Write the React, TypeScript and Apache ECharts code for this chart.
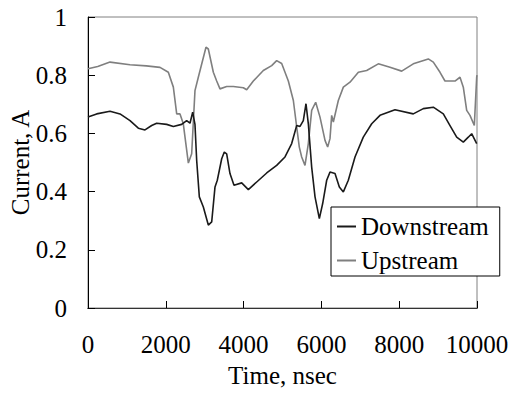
import React, { useEffect, useRef } from "react";
import * as echarts from "echarts";

const xTicks = [0, 2000, 4000, 6000, 8000, 10000];
const yTicks = [0, 0.2, 0.4, 0.6, 0.8, 1];

const downTime = [0, 223, 566, 823, 1080, 1294, 1465, 1637, 1765, 2022, 2194, 2408, 2536, 2622, 2691, 2750, 2794, 2862, 2965, 3093, 3180, 3265, 3324, 3437, 3504, 3565, 3650, 3753, 3951, 4122, 4337, 4594, 4850, 5064, 5236, 5365, 5450, 5535, 5604, 5664, 5750, 5836, 5947, 6033, 6136, 6221, 6350, 6461, 6564, 6692, 6864, 7077, 7293, 7506, 7892, 8362, 8620, 8877, 9134, 9306, 9478, 9648, 9776, 9863, 9992];
const downValues = [0.656, 0.667, 0.676, 0.667, 0.644, 0.618, 0.612, 0.627, 0.635, 0.631, 0.624, 0.631, 0.644, 0.635, 0.673, 0.631, 0.507, 0.382, 0.347, 0.285, 0.296, 0.416, 0.439, 0.513, 0.536, 0.53, 0.462, 0.422, 0.43, 0.407, 0.433, 0.464, 0.49, 0.519, 0.565, 0.627, 0.624, 0.644, 0.702, 0.633, 0.484, 0.382, 0.307, 0.359, 0.439, 0.467, 0.462, 0.416, 0.399, 0.439, 0.519, 0.587, 0.633, 0.662, 0.681, 0.667, 0.685, 0.69, 0.667, 0.627, 0.587, 0.57, 0.587, 0.599, 0.565];

const upTime = [0, 250, 566, 1080, 1500, 1851, 2065, 2194, 2280, 2365, 2450, 2580, 2665, 2750, 2836, 3033, 3093, 3222, 3308, 3393, 3565, 3736, 3993, 4079, 4250, 4507, 4722, 4850, 4979, 5150, 5279, 5365, 5432, 5493, 5578, 5664, 5750, 5853, 5964, 6093, 6161, 6221, 6264, 6307, 6435, 6564, 6735, 6950, 7164, 7463, 7763, 8064, 8362, 8748, 8877, 9049, 9177, 9434, 9563, 9648, 9735, 9820, 9931, 9992, 10000];
const upValues = [0.822, 0.83, 0.845, 0.836, 0.832, 0.827, 0.81, 0.759, 0.667, 0.667, 0.633, 0.498, 0.53, 0.747, 0.793, 0.896, 0.89, 0.81, 0.78, 0.753, 0.761, 0.761, 0.757, 0.75, 0.78, 0.816, 0.833, 0.85, 0.84, 0.78, 0.713, 0.622, 0.553, 0.519, 0.49, 0.565, 0.679, 0.707, 0.656, 0.576, 0.553, 0.582, 0.662, 0.639, 0.713, 0.759, 0.776, 0.81, 0.816, 0.839, 0.827, 0.814, 0.839, 0.856, 0.845, 0.81, 0.78, 0.78, 0.793, 0.759, 0.679, 0.662, 0.627, 0.793, 0.8];

const FONT = '"Liberation Serif", "Times New Roman", serif';

export default function App() {
  const ref = useRef<HTMLDivElement>(null);
  useEffect(() => {
    const chart = echarts.init(ref.current!, null, { renderer: "svg" });
    const zip = (t: number[], v: number[]) => t.map((x, i) => [x, v[i]]);
    chart.setOption({
      animation: false,
      backgroundColor: "#fff",
      textStyle: { fontFamily: FONT },
      grid: {
        left: 88,
        right: 43,
        top: 17,
        bottom: 85,
        show: true,
        borderColor: "#808080",
        borderWidth: 1,
        outerBoundsMode: "none",
      },
      legend: {
        orient: "vertical",
        left: 331,
        top: 207,
        width: 170,
        padding: [7, 11, 3, 6],
        backgroundColor: "#fff",
        borderColor: "#000",
        borderWidth: 1,
        itemWidth: 19,
        itemHeight: 2,
        itemGap: 9,
        itemStyle: { borderWidth: 0 },
        icon: "rect",
        textStyle: { fontFamily: FONT, fontSize: 25, color: "#000", lineHeight: 25, padding: [0, 0, 0, 0] },
        data: ["Downstream", "Upstream"],
      },
      xAxis: [
        {
          type: "value",
          min: xTicks[0],
          max: xTicks[xTicks.length - 1],
          interval: 2000,
          name: "Time, nsec",
          nameLocation: "middle",
          nameGap: 55,
          nameMoveOverlap: false,
          nameTextStyle: { fontFamily: FONT, fontSize: 25, color: "#000" },
          axisLine: { show: true, onZero: false, lineStyle: { color: "#000", width: 1 } },
          axisTick: { show: true, inside: true, length: 7, lineStyle: { color: "#000" } },
          axisLabel: { fontFamily: FONT, fontSize: 25, color: "#000", margin: 24, formatter: (v: number) => String(v) },
          splitLine: { show: false },
        },
        {
          type: "value",
          position: "top",
          min: 0,
          max: 10000,
          axisLine: { show: true, lineStyle: { color: "#333", width: 1 } },
          axisTick: { show: false },
          axisLabel: { show: false },
          splitLine: { show: false },
        },
      ],
      yAxis: {
        type: "value",
        min: yTicks[0],
        max: yTicks[yTicks.length - 1],
        interval: 0.2,
        name: "Current, A",
        nameLocation: "middle",
        nameGap: 55,
        nameMoveOverlap: false,
        nameTextStyle: { fontFamily: FONT, fontSize: 25, color: "#000" },
        axisLine: { show: true, onZero: false, lineStyle: { color: "#000", width: 1 } },
        axisTick: { show: true, inside: true, length: 7, lineStyle: { color: "#000" } },
        axisLabel: {
          fontFamily: FONT,
          fontSize: 25,
          color: "#000",
          margin: 21,
          formatter: (v: number) => String(Math.round(v * 10) / 10),
        },
        splitLine: { show: false },
      },
      series: [
        {
          name: "Downstream",
          type: "line",
          data: zip(downTime, downValues),
          showSymbol: false,
          symbol: "none",
          lineStyle: { color: "#1a1a1a", width: 1.6 },
          itemStyle: { color: "#1a1a1a" },
          z: 3,
        },
        {
          name: "Upstream",
          type: "line",
          data: zip(upTime, upValues),
          showSymbol: false,
          symbol: "none",
          lineStyle: { color: "#7f7f7f", width: 1.6 },
          itemStyle: { color: "#7f7f7f" },
          z: 2,
        },
      ],
    });
    return () => chart.dispose();
  }, []);
  return (
    <div
      ref={ref}
      style={{ position: "fixed", left: 0, top: 0, width: 520, height: 393 }}
    />
  );
}
